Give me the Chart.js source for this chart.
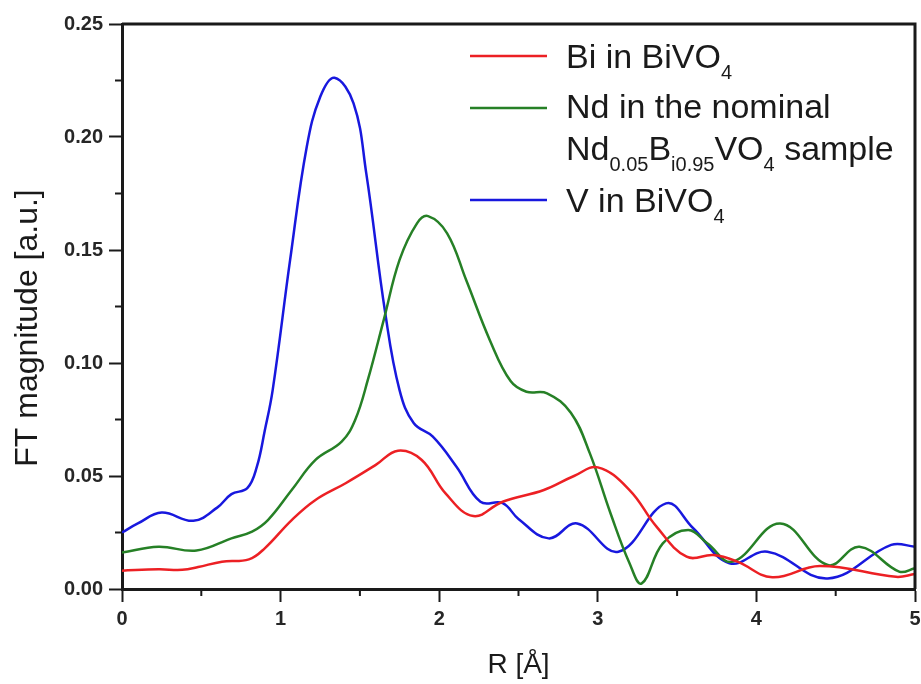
<!DOCTYPE html>
<html>
<head>
<meta charset="utf-8">
<script src="https://cdn.jsdelivr.net/npm/chart.js@4/dist/chart.umd.min.js"></script>
<style>
  body { margin: 0; background: #fff; }
  #chart { display: block; }
</style>
</head>
<body>
<canvas id="chart" width="921" height="684"></canvas>
<script>
// R values [Å] and FT magnitudes
const rBi = [0, 0.23, 0.38, 0.48, 0.63, 0.8, 0.9, 1.07, 1.22, 1.41, 1.6, 1.74, 1.89, 2.04, 2.215, 2.4, 2.66, 2.85, 3.0, 3.2, 3.37, 3.56, 3.73, 3.88, 4.1, 4.4, 4.88, 5.0];
const ftBi = [0.0081, 0.0087, 0.0085, 0.0097, 0.0121, 0.0131, 0.018, 0.0305, 0.0394, 0.0468, 0.0549, 0.0612, 0.0571, 0.0423, 0.0323, 0.0386, 0.0438, 0.050, 0.0538, 0.0438, 0.0276, 0.0143, 0.015, 0.0121, 0.0052, 0.0102, 0.0054, 0.0066];

const rNd = [0, 0.23, 0.47, 0.69, 0.82, 0.92, 1.07, 1.22, 1.385, 1.47, 1.55, 1.65, 1.75, 1.86, 1.93, 2.05, 2.17, 2.32, 2.45, 2.55, 2.68, 2.83, 2.95, 3.08, 3.2, 3.277, 3.41, 3.57, 3.69, 3.85, 4.15, 4.45, 4.65, 4.9, 5.0];
const ftNd = [0.0161, 0.0187, 0.017, 0.0224, 0.0254, 0.0305, 0.0438, 0.0571, 0.0652, 0.0748, 0.0925, 0.119, 0.1456, 0.1618, 0.165, 0.1574, 0.1367, 0.110, 0.092, 0.0873, 0.0866, 0.078, 0.060, 0.0335, 0.0114, 0.0025, 0.0202, 0.0261, 0.0202, 0.0121, 0.029, 0.0106, 0.0187, 0.0077, 0.0092];

const rV = [0, 0.1, 0.25, 0.45, 0.6, 0.69, 0.79, 0.85, 0.9, 0.95, 1.06, 1.165, 1.25, 1.34, 1.46, 1.54, 1.66, 1.75, 1.84, 1.96, 2.11, 2.26, 2.4, 2.5, 2.69, 2.87, 3.13, 3.43, 3.6, 3.83, 4.07, 4.45, 4.85, 5.0];
const ftV = [0.025, 0.029, 0.0338, 0.0302, 0.036, 0.042, 0.0446, 0.054, 0.070, 0.088, 0.1456, 0.1957, 0.2178, 0.2262, 0.2149, 0.184, 0.122, 0.088, 0.0733, 0.0674, 0.054, 0.0386, 0.038, 0.031, 0.0224, 0.029, 0.0165, 0.0379, 0.027, 0.0114, 0.0165, 0.0047, 0.0195, 0.0187];

const xTicks = [0, 1, 2, 3, 4, 5];
const yTicks = [0, 0.05, 0.10, 0.15, 0.20, 0.25];

const RED = "rgb(236, 32, 36)";
const GREEN = "rgb(38, 128, 38)";
const BLUE = "rgb(24, 24, 222)";
const FONT = '"Liberation Sans", Arial, sans-serif';

const toPoints = (xs, ys) => xs.map((x, i) => ({ x: x, y: ys[i] }));

// legend entries: each line is a list of [text, isSubscript]
const legendItems = [
  { color: RED, lines: [[["Bi in BiVO", false], ["4", true]]] },
  { color: GREEN, lines: [
      [["Nd in the nominal", false]],
      [["Nd", false], ["0.05", true], ["B", false], ["i0.95", true], ["VO", false], ["4", true], [" sample", false]]
    ] },
  { color: BLUE, lines: [[["V in BiVO", false], ["4", true]]] },
];

const extras = {
  id: "extras",
  afterDraw(chart) {
    const ctx = chart.ctx;
    const area = chart.chartArea;
    const xs = chart.scales.x;
    const ys = chart.scales.y;
    ctx.save();

    // top and right frame
    ctx.strokeStyle = "#1a1a1a";
    ctx.lineWidth = 3;
    ctx.beginPath();
    ctx.moveTo(area.left, area.top);
    ctx.lineTo(area.right, area.top);
    ctx.lineTo(area.right, area.bottom);
    ctx.stroke();

    // minor ticks
    ctx.lineWidth = 2;
    ctx.beginPath();
    for (let v = 0.5; v < 5; v += 1) {
      const px = xs.getPixelForValue(v);
      ctx.moveTo(px, area.bottom);
      ctx.lineTo(px, area.bottom + 7);
    }
    for (let v = 0.025; v < 0.25; v += 0.05) {
      const py = ys.getPixelForValue(v);
      ctx.moveTo(area.left, py);
      ctx.lineTo(area.left - 7, py);
    }
    ctx.stroke();

    // y axis title
    ctx.fillStyle = "#1a1a1a";
    ctx.font = "32px " + FONT;
    ctx.textAlign = "center";
    ctx.textBaseline = "middle";
    ctx.translate(28, 328);
    ctx.rotate(-Math.PI / 2);
    ctx.fillText("FT magnitude [a.u.]", 0, 0);
    ctx.setTransform(1, 0, 0, 1, 0, 0);

    // legend
    const lineY = [56, 108, 200];
    const baseY = [[68], [118, 160], [212]];
    ctx.textAlign = "left";
    ctx.textBaseline = "alphabetic";
    legendItems.forEach((item, i) => {
      ctx.strokeStyle = item.color;
      ctx.lineWidth = 2.5;
      ctx.beginPath();
      ctx.moveTo(470, lineY[i]);
      ctx.lineTo(547, lineY[i]);
      ctx.stroke();
      item.lines.forEach((parts, j) => {
        let x = 566;
        parts.forEach(([text, sub]) => {
          ctx.font = (sub ? "20px " : "34px ") + FONT;
          ctx.fillText(text, x, baseY[i][j] + (sub ? 11 : 0));
          x += ctx.measureText(text).width;
        });
      });
    });
    ctx.restore();
  },
};

new Chart(document.getElementById("chart"), {
  type: "line",
  data: {
    datasets: [
      { label: "Bi in BiVO4", data: toPoints(rBi, ftBi), borderColor: RED },
      { label: "Nd in the nominal Nd0.05Bi0.95VO4 sample", data: toPoints(rNd, ftNd), borderColor: GREEN },
      { label: "V in BiVO4", data: toPoints(rV, ftV), borderColor: BLUE },
    ],
  },
  options: {
    responsive: false,
    animation: false,
    devicePixelRatio: 1,
    layout: { padding: { left: 0, top: 24, right: 6, bottom: 0 } },
    elements: {
      point: { radius: 0 },
      line: { borderWidth: 2.5, tension: 0.4, fill: false },
    },
    plugins: {
      legend: { display: false },
      tooltip: { enabled: false },
    },
    scales: {
      x: {
        type: "linear",
        min: 0,
        max: 5,
        afterFit: (scale) => {
          scale.height = 95;
          scale.paddingLeft = 0;
          scale.paddingRight = 0;
        },
        afterBuildTicks: (scale) => { scale.ticks = xTicks.map((v) => ({ value: v })); },
        border: { display: true, color: "#1a1a1a", width: 3 },
        grid: { drawOnChartArea: false, drawTicks: true, tickLength: 13, tickWidth: 2, tickColor: "#1a1a1a" },
        ticks: {
          padding: 5,
          color: "#262626",
          font: { family: FONT, size: 20, weight: "bold" },
          callback: (v) => String(v),
        },
        title: {
          display: true,
          text: "R [Å]",
          color: "#1a1a1a",
          font: { family: FONT, size: 28 },
          padding: { top: 0, bottom: 2 },
        },
      },
      y: {
        type: "linear",
        min: 0,
        max: 0.25,
        afterFit: (scale) => {
          scale.width = 122;
          scale.paddingTop = 0;
          scale.paddingBottom = 0;
        },
        afterBuildTicks: (scale) => { scale.ticks = yTicks.map((v) => ({ value: v })); },
        border: { display: true, color: "#1a1a1a", width: 3 },
        grid: { drawOnChartArea: false, drawTicks: true, tickLength: 13, tickWidth: 2, tickColor: "#1a1a1a" },
        ticks: {
          padding: 6,
          color: "#262626",
          font: { family: FONT, size: 20, weight: "bold" },
          callback: (v) => v.toFixed(2),
        },
      },
    },
  },
  plugins: [extras],
});
</script>
</body>
</html>
